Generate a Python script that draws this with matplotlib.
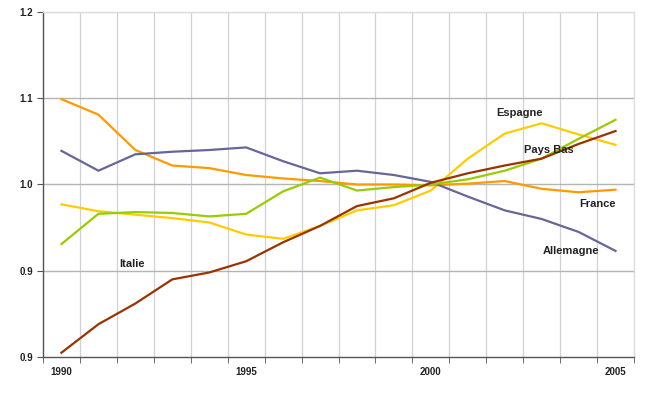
import matplotlib
matplotlib.use("Agg")
import matplotlib.pyplot as plt
import numpy as np

plt.rcParams['font.family'] = ['Liberation Sans', 'DejaVu Sans']

years = list(range(1990, 2006))
france    = [1.099, 1.081, 1.040, 1.022, 1.019, 1.011, 1.007, 1.004, 1.000, 1.000, 0.999, 1.001, 1.004, 0.995, 0.991, 0.994]
allemagne = [1.039, 1.016, 1.035, 1.038, 1.040, 1.043, 1.027, 1.013, 1.016, 1.011, 1.003, 0.986, 0.970, 0.960, 0.945, 0.923]
italie    = [0.805, 0.838, 0.862, 0.890, 0.898, 0.911, 0.933, 0.952, 0.975, 0.984, 1.002, 1.013, 1.022, 1.030, 1.047, 1.062]
pays_bas  = [0.931, 0.966, 0.968, 0.967, 0.963, 0.966, 0.992, 1.008, 0.993, 0.997, 1.000, 1.006, 1.016, 1.030, 1.053, 1.075]
espagne   = [0.977, 0.969, 0.965, 0.961, 0.956, 0.942, 0.937, 0.952, 0.970, 0.976, 0.993, 1.030, 1.059, 1.071, 1.058, 1.046]

ytick_vals = [0.8, 0.9, 1.0, 1.1, 1.2]
ytick_labels = ["0.9", "0.9", "1.0", "1.1", "1.2"]
xtick_vals = [1990, 1995, 2000, 2005]

series = [
    ("Espagne", espagne, "#FFCC00"),
    ("France", france, "#FF9900"),
    ("Allemagne", allemagne, "#666699"),
    ("Pays Bas", pays_bas, "#99CC00"),
    ("Italie", italie, "#993300"),
]

fig = plt.figure(figsize=(6.48, 3.93), dpi=100)
ax = fig.add_axes([43/648, 36/393, (634-43)/648, (357-12)/393])

# grid
for b in np.arange(1989.5, 2006.0, 1.0):
    ax.axvline(b, color="#d0d0da", lw=0.9, zorder=0)
for v in [0.9, 1.0, 1.1]:
    ax.axhline(v, color="#b4b4b4", lw=1.0, zorder=0)
ax.axhline(1.2, color="#dddddd", lw=1.0, zorder=0)

for name, vals, col in series:
    ax.plot(years, vals, color=col, lw=1.6, solid_joinstyle="round", zorder=3)

ax.set_xlim(1989.5, 2005.5)
ax.set_ylim(0.8, 1.2)
ax.set_yticks(ytick_vals)
ax.set_yticklabels(ytick_labels)
ax.set_xticks(xtick_vals)
ax.set_xticklabels([str(x) for x in xtick_vals])
ax.set_xticks(np.arange(1989.5, 2006.0, 1.0), minor=True)
ax.tick_params(axis="x", which="major", length=0, labelsize=7, pad=7)
ax.tick_params(axis="x", which="minor", length=4, color="#555555", direction="out")
ax.tick_params(axis="y", which="major", length=4, color="#555555", labelsize=7, pad=3)
for lab in ax.get_xticklabels() + ax.get_yticklabels():
    lab.set_fontweight("bold")
    lab.set_color("#222222")

for s in ["left", "bottom"]:
    ax.spines[s].set_color("#555555")
    ax.spines[s].set_linewidth(1.0)
for s in ["top", "right"]:
    ax.spines[s].set_color("#dddddd")
    ax.spines[s].set_linewidth(1.0)

lab_kw = dict(fontsize=8, fontweight="bold", color="#222222", ha="center", va="center", zorder=5)
ax.text(2002.4, 1.083, "Espagne", **lab_kw)
ax.text(2003.2, 1.040, "Pays Bas", **lab_kw)
ax.text(2004.5, 0.977, "France", **lab_kw)
ax.text(2003.8, 0.923, "Allemagne", **lab_kw)
ax.text(1991.9, 0.908, "Italie", **lab_kw)

fig.savefig("out.png", dpi=100)
